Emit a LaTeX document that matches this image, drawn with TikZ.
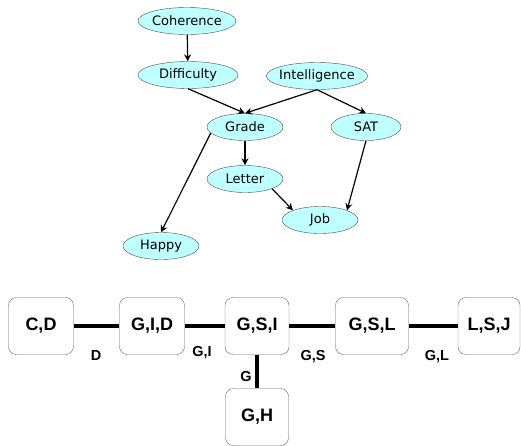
\documentclass[tikz,border=0pt]{standalone}
\usepackage{fontspec}
\setmainfont{Liberation Sans}
\newfontfamily\netfont{DejaVu Sans}
\usetikzlibrary{shapes.geometric,arrows.meta}
\definecolor{nodecyan}{RGB}{190,255,255}

\tikzset{
  var/.style={ellipse, draw=black!70, thin, fill=nodecyan, inner xsep=-2pt, inner ysep=0pt,
    minimum height=27pt, minimum width=76pt, font=\netfont\fontsize{13}{15}\selectfont},
  dep/.style={-{Stealth[length=7pt,width=7pt]}, line width=1.2pt},
  clique/.style={draw=black!60, rounded corners=8pt, minimum height=57pt,
    font=\bfseries\fontsize{18}{20}\selectfont},
  sep/.style={line width=3.5pt},
  seplbl/.style={font=\bfseries\fontsize{14.5}{16}\selectfont}
}

\begin{document}
\begin{tikzpicture}[x=1pt, y=-1pt]
  \useasboundingbox (0,0) rectangle (521,445);
  % Bayesian network
  \node[var, minimum width=98pt] (coh) at (187,21) {Coherence};
  \node[var, minimum width=100pt] (dif) at (188,75) {Difficulty};
  \node[var, minimum width=100pt] (int) at (317,76) {Intelligence};
  \node[var] (gra) at (245,127) {Grade};
  \node[var, minimum width=70pt] (sat) at (366,127) {SAT};
  \node[var] (let) at (245,179) {Letter};
  \node[var] (job) at (320,220) {Job};
  \node[var] (hap) at (161,246) {Happy};

  \draw[dep] (coh) -- (dif);
  \draw[dep] (dif.south) -- (gra.north);
  \draw[dep] (int.south) -- (gra.north);
  \draw[dep] (int.south) -- (sat.north);
  \draw[dep] (gra) -- (let);
  \draw[dep] (gra.190) -- (hap.north);
  \draw[dep] (let.south east) -- (job.north west);
  \draw[dep] (sat.south) -- (job.north east);

  % clique tree
  \node[clique, minimum width=65pt] (cd) at (41,326) {C,D};
  \node[clique, minimum width=65pt] (gid) at (152,326) {G,I,D};
  \node[clique, minimum width=64pt] (gsi) at (257,326) {G,S,I};
  \node[clique, minimum width=73pt] (gsl) at (372,326) {G,S,L};
  \node[clique, minimum width=62pt] (lsj) at (489,326) {L,S,J};
  \node[clique, minimum width=63pt] (gh) at (257,417) {G,H};

  \draw[sep] (cd) -- (gid);
  \draw[sep] (gid) -- (gsi);
  \draw[sep] (gsi) -- (gsl);
  \draw[sep] (gsl) -- (lsj);
  \draw[sep] (gsi) -- (gh);

  \node[seplbl] (d) at (96,356) {D};
  \node[seplbl] (gi) at (202,353) {G,I};
  \node[seplbl] (gs) at (313,357) {G,S};
  \node[seplbl] (gl) at (437,357) {G,L};
  \node[seplbl] (g) at (246,376) {G};
\end{tikzpicture}
\end{document}
